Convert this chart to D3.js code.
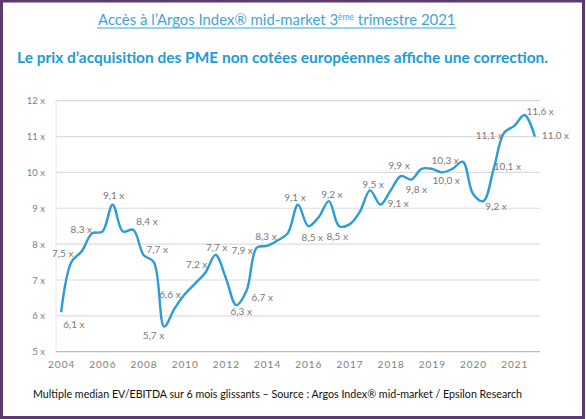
<!DOCTYPE html>
<html>
<head>
<meta charset="utf-8">
<script src="https://cdn.jsdelivr.net/npm/d3@7"></script>
<style>
  body { margin: 0; background: #fff; }
  svg { display: block; font-family: Lato, "Open Sans", sans-serif; }
</style>
</head>
<body>
<svg id="chart" width="586" height="419"></svg>
<script>
// semi-annual up to 2015, then quarterly
const periods = [
  "2004 S1", "2004 S2", "2005 S1", "2005 S2", "2006 S1", "2006 S2",
  "2007 S1", "2007 S2", "2008 S1", "2008 S2", "2009 S1", "2009 S2",
  "2010 S1", "2010 S2", "2011 S1", "2011 S2", "2012 S1", "2012 S2",
  "2013 S1", "2013 S2", "2014 S1", "2014 S2", "2015 S1", "2015 S2",
  "2016 T1", "2016 T2", "2016 T3", "2016 T4",
  "2017 T1", "2017 T2", "2017 T3", "2017 T4",
  "2018 T1", "2018 T2", "2018 T3", "2018 T4",
  "2019 T1", "2019 T2", "2019 T3", "2019 T4",
  "2020 T1", "2020 T2", "2020 T3", "2020 T4",
  "2021 T1", "2021 T2", "2021 T3"
];

const multiples = [
  6.1, 7.5, 7.8, 8.3, 8.35, 9.1, 8.35, 8.4, 7.7, 7.5,
  5.7, 6.2, 6.6, 6.9, 7.2, 7.7, 7.05, 6.3, 6.7, 7.9,
  7.95, 8.1, 8.3, 9.1, 8.5, 8.75, 9.2, 8.5, 8.55, 8.9,
  9.5, 9.1, 9.5, 9.9, 9.8, 10.1, 10.1, 10.0, 10.1, 10.3,
  9.4, 9.2, 10.1, 11.1, 11.3, 11.6, 11.0
];

// points that carry a value label
const labelled = [0, 1, 3, 5, 7, 8, 10, 12, 14, 15, 17, 18, 19, 22, 23, 24,
  26, 27, 30, 31, 33, 34, 37, 39, 41, 42, 43, 45, 46];

const yTicks = [5, 6, 7, 8, 9, 10, 11, 12];
const xTickLabels = ["2004", "2006", "2008", "2010", "2012", "2014",
  "2016", "2017", "2018", "2019", "2020", "2021"];

// label placement: [anchor, dx, dy]
const labelPos = {
  0: ["start", 2, 16], 1: ["end", 2, -5], 3: ["end", 0, 0], 5: ["middle", 1, -6],
  7: ["start", 3, -5], 8: ["start", 3, -2], 10: ["end", 0, 12], 12: ["end", -4, 4],
  14: ["end", 2, -5], 15: ["middle", 1, -4], 17: ["middle", 5, 10], 18: ["start", 5, 10],
  19: ["end", -4, 6], 22: ["end", -11, 7], 23: ["middle", -3, -4], 24: ["middle", 4, 15],
  26: ["middle", 3, -3], 27: ["middle", -2, 14], 30: ["middle", 3, -2], 31: ["start", 7, 2],
  33: ["middle", -2, -7], 34: ["middle", 5, 13], 37: ["middle", 4, 12], 39: ["end", -4, 2],
  41: ["start", 2, 9], 42: ["start", 0, 1], 43: ["end", -1, 6], 45: ["start", 2, 0],
  46: ["start", 7, 2]
};

const svg = d3.select("#chart");

svg.append("rect")
  .attr("width", 586).attr("height", 419).attr("fill", "#fff");

// header
let title = svg.append("text")
  .attr("x", 98).attr("y", 25)
  .attr("fill", "#3fa4dc")
  .style("font-size", "14.9px");
title.append("tspan").text("Accès à l’Argos Index® mid-market 3");
title.append("tspan").attr("dy", -5).style("font-size", "8.5px").text("ème");
title.append("tspan").attr("dy", 5).text(" trimestre 2021");

// underline follows the rendered title
let tw = title.node().getComputedTextLength();
svg.append("line")
  .attr("x1", 97).attr("x2", 98 + tw + 1)
  .attr("y1", 28).attr("y2", 28)
  .attr("stroke", "#3fa4dc").attr("stroke-width", 1);

svg.append("text")
  .attr("x", 17).attr("y", 63)
  .attr("fill", "#1c9cda")
  .attr("textLength", 531).attr("lengthAdjust", "spacingAndGlyphs")
  .style("font-size", "14.5px").style("font-weight", "bold")
  .text("Le prix d’acquisition des PME non cotées européennes affiche une correction.");

// scales
let x = d3.scalePoint().domain(periods).range([56, 540]).padding(0.5);
let y = d3.scaleLinear().domain([5, 12]).range([351.7, 100.7]);

// gridlines
svg.append("g")
  .selectAll("line")
  .data(yTicks.slice(1))
  .join("line")
  .attr("x1", 56).attr("x2", 540)
  .attr("y1", d => y(d)).attr("y2", d => y(d))
  .attr("stroke", "#dcdcdc").attr("stroke-width", 1.2);

svg.append("line")
  .attr("x1", 56).attr("x2", 56)
  .attr("y1", y(12)).attr("y2", y(5))
  .attr("stroke", "#e6e6e6");

// y axis labels
let yAxis = d3.axisLeft(y)
  .tickValues(yTicks)
  .tickSize(0)
  .tickPadding(11)
  .tickFormat(d => d + " x");
svg.append("g")
  .attr("transform", "translate(56,0)")
  .call(yAxis)
  .call(g => g.select(".domain").remove())
  .selectAll("text")
  .attr("fill", "#808080")
  .style("font-size", "9.5px")
  .style("font-family", "Lato, sans-serif");

// x axis
let xAxis = d3.axisBottom(x)
  .tickValues(periods.filter((p, i) => i % 4 === 0))
  .tickSize(0)
  .tickPadding(9)
  .tickFormat((p, i) => xTickLabels[i]);
let gx = svg.append("g")
  .attr("transform", `translate(0,${y(5)})`)
  .call(xAxis);
gx.select(".domain")
  .attr("d", "M56,0H540")
  .attr("stroke", "#bdbdbd")
  .attr("stroke-width", 1.2);
gx.selectAll("text")
  .attr("fill", "#808080")
  .style("font-size", "10px")
  .style("letter-spacing", "1px")
  .style("font-family", "Lato, sans-serif");

// the line
let lineGen = d3.line()
  .x((d, i) => x(periods[i]))
  .y(d => y(d))
  .curve(d3.curveCatmullRom.alpha(0.5));

svg.append("path")
  .datum(multiples)
  .attr("d", lineGen)
  .attr("fill", "none")
  .attr("stroke", "#2c9cd8")
  .attr("stroke-width", 2.4)
  .attr("stroke-linejoin", "round");

// value labels
let fmt = d3.format(".1f");
svg.append("g")
  .selectAll("text")
  .data(labelled)
  .join("text")
  .attr("x", i => x(periods[i]) + labelPos[i][1])
  .attr("y", i => y(multiples[i]) + labelPos[i][2])
  .attr("text-anchor", i => labelPos[i][0])
  .attr("fill", "#7a7a7a")
  .style("font-size", "10px")
  .text(i => fmt(multiples[i]).replace(".", ",") + " x");

// footer
svg.append("text")
  .attr("x", 33).attr("y", 398)
  .attr("fill", "#111")
  .attr("textLength", 489).attr("lengthAdjust", "spacingAndGlyphs")
  .style("font-size", "10.5px")
  .text("Multiple median EV/EBITDA sur 6 mois glissants – Source : Argos Index® mid-market / Epsilon Research");

// frame
svg.append("rect")
  .attr("x", 1.5).attr("y", 1).attr("width", 582).attr("height", 416.5)
  .attr("fill", "none")
  .attr("stroke", "#5b3a70")
  .attr("stroke-width", 3);
</script>
</body>
</html>
